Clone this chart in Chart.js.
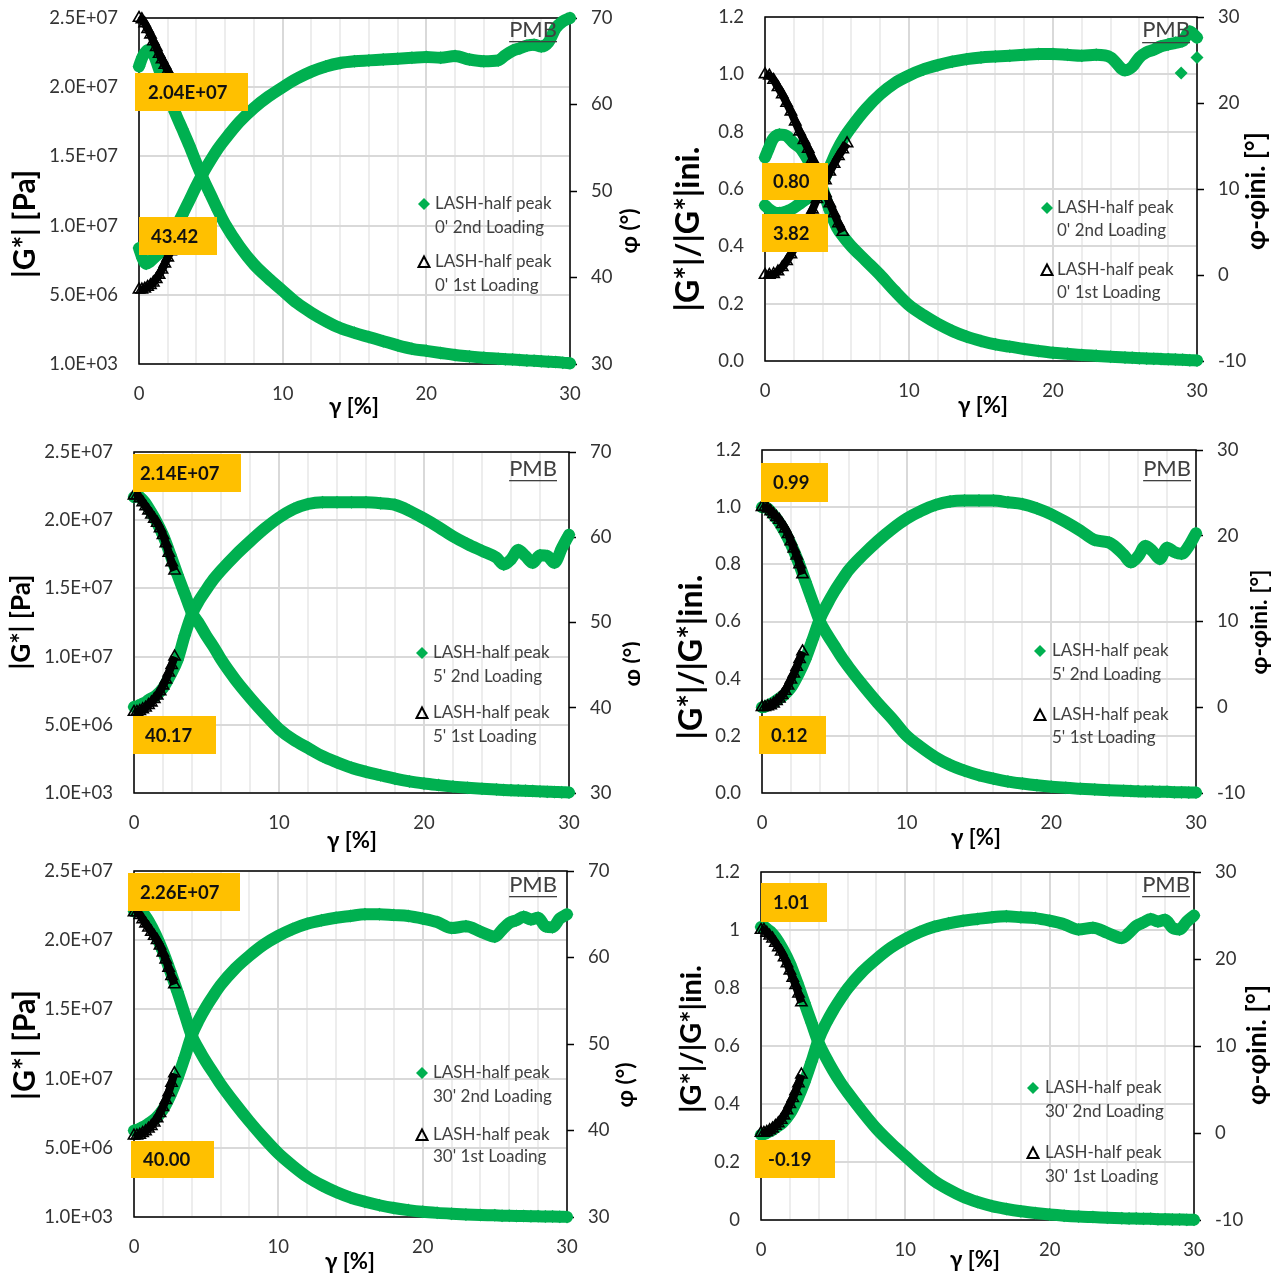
<!DOCTYPE html>
<html>
<head>
<meta charset="utf-8">
<script src="https://cdn.jsdelivr.net/npm/chart.js@4.4.1/dist/chart.umd.min.js"></script>
<style>
  body { margin: 0; background: #fff; width: 1280px; height: 1275px; position: relative; overflow: hidden; }
  canvas { position: absolute; }
</style>
</head>
<body>
<canvas id="p0" width="640" height="430"></canvas>
<canvas id="p1" width="640" height="430"></canvas>
<canvas id="p2" width="640" height="430"></canvas>
<canvas id="p3" width="640" height="430"></canvas>
<canvas id="p4" width="640" height="415"></canvas>
<canvas id="p5" width="640" height="415"></canvas>
<script>
// strain (%) of the 2nd loading, shared by every panel
const strain = [0, 0.25, 0.5, 0.75, 1, 1.5, 2, 2.5, 3, 3.5, 4, 4.5, 5, 5.5, 6, 7, 8, 9, 10, 11, 12, 13, 14, 15, 16, 17, 18, 19, 20, 21, 22, 23, 24, 25, 25.5, 26, 26.5, 27, 27.5, 28, 28.5, 29, 29.5, 30];
// strain of the 1st loading (short runs)
const strainFirst0 = [0, 0.2, 0.4, 0.6, 0.8, 1, 1.2, 1.4, 1.6, 1.8, 2, 2.2, 2.4];
const strainFirst0nG = [0, 0.3, 0.6, 0.9, 1.2, 1.5, 1.8, 2.1, 2.4, 2.7, 3, 3.3, 3.6, 3.9, 4.2, 4.5, 4.8, 5.1, 5.4];
const strainFirst0nP = [0, 0.3, 0.6, 0.9, 1.2, 1.5, 1.8, 2.1, 2.4, 2.7, 3, 3.3, 3.6, 3.9, 4.2, 4.5, 4.8, 5.1, 5.4, 5.7];
const strainFirst = [0, 0.2, 0.4, 0.6, 0.8, 1, 1.2, 1.4, 1.6, 1.8, 2, 2.2, 2.4, 2.6, 2.8];

// 0' rest: |G*| [Pa] and phase angle [deg]
const g0Second = [21.5e6, 22.2e6, 22.6e6, 22.7e6, 22.4e6, 21.0e6, 19.6e6, 18.2e6, 17.0e6, 15.8e6, 14.5e6, 13.3e6, 12.2e6, 11.1e6, 10.1e6, 8.5e6, 7.2e6, 6.2e6, 5.3e6, 4.4e6, 3.7e6, 3.1e6, 2.6e6, 2.25e6, 1.95e6, 1.65e6, 1.35e6, 1.1e6, 0.95e6, 0.8e6, 0.65e6, 0.55e6, 0.45e6, 0.38e6, 0.35e6, 0.32e6, 0.29e6, 0.26e6, 0.23e6, 0.2e6, 0.17e6, 0.14e6, 0.1e6, 0.05e6];
const phi0Second = [43.4, 42.2, 41.6, 41.8, 42.2, 43.0, 44.2, 45.6, 47.2, 48.9, 50.6, 52.2, 53.6, 54.9, 56.0, 58.0, 59.6, 60.9, 62.0, 63.0, 63.8, 64.4, 64.8, 65.0, 65.1, 65.2, 65.3, 65.4, 65.5, 65.4, 65.6, 65.2, 65.0, 65.1, 65.7, 66.2, 66.5, 66.8, 66.9, 66.7, 67.2, 68.8, 69.6, 70.0];
const g0First = [25.0e6, 24.9e6, 24.6e6, 24.2e6, 23.8e6, 23.3e6, 22.9e6, 22.4e6, 22.0e6, 21.6e6, 21.2e6, 20.8e6, 20.4e6];
const phi0First = [38.6, 38.6, 38.7, 38.9, 39.1, 39.4, 39.8, 40.3, 40.9, 41.6, 42.3, 43.0, 43.8];

// 0' rest, normalised: |G*|/|G*|ini and phi - phi ini
const g0nSecond = [0.71, 0.74, 0.77, 0.785, 0.79, 0.785, 0.76, 0.74, 0.70, 0.655, 0.60, 0.525, 0.465, 0.43, 0.40, 0.35, 0.30, 0.245, 0.195, 0.16, 0.13, 0.105, 0.085, 0.07, 0.058, 0.05, 0.042, 0.035, 0.029, 0.025, 0.021, 0.018, 0.015, 0.012, 0.011, 0.01, 0.009, 0.008, 0.007, 0.006, 0.005, 0.004, 0.003, 0.002];
const dphi0Second = [8.1, 7.7, 7.4, 7.2, 7.2, 7.4, 7.8, 8.4, 9.0, 9.8, 10.8, 12.6, 14.5, 16.0, 17.2, 19.3, 21.0, 22.3, 23.2, 23.9, 24.4, 24.8, 25.1, 25.3, 25.4, 25.5, 25.6, 25.7, 25.7, 25.6, 25.5, 25.6, 25.3, 23.8, 24.2, 25.3, 25.9, 26.2, 26.6, 26.8, 27.0, 27.2, 28.3, 27.6];
const strainOutlier0n = [28.9, 30];
const dphiOutlier0n = [23.5, 25.3];
const g0nFirst = [1.0, 0.995, 0.98, 0.955, 0.93, 0.90, 0.87, 0.835, 0.80, 0.77, 0.74, 0.705, 0.665, 0.625, 0.585, 0.55, 0.515, 0.48, 0.45];
const dphi0First = [0, 0, 0.1, 0.4, 0.9, 1.6, 2.4, 3.3, 4.3, 5.4, 6.5, 7.6, 8.8, 9.9, 11.0, 12.0, 12.9, 13.8, 14.6, 15.3];

// 5' rest
const g5Second = [21.7e6, 21.8e6, 21.6e6, 21.3e6, 20.9e6, 20.0e6, 18.9e6, 17.5e6, 16.0e6, 14.6e6, 13.2e6, 12.4e6, 11.5e6, 10.7e6, 9.8e6, 8.3e6, 7.0e6, 5.8e6, 4.7e6, 3.9e6, 3.3e6, 2.7e6, 2.25e6, 1.85e6, 1.55e6, 1.3e6, 1.05e6, 0.85e6, 0.7e6, 0.58e6, 0.47e6, 0.38e6, 0.31e6, 0.25e6, 0.22e6, 0.2e6, 0.18e6, 0.16e6, 0.14e6, 0.12e6, 0.1e6, 0.08e6, 0.06e6, 0.04e6];
const phi5Second = [40.1, 40.2, 40.4, 40.6, 40.9, 41.4, 42.3, 43.8, 45.6, 48.5, 51.0, 52.6, 53.9, 55.1, 56.1, 57.9, 59.5, 61.0, 62.3, 63.3, 63.9, 64.1, 64.1, 64.1, 64.1, 64.0, 63.8, 63.1, 62.2, 61.2, 60.1, 59.2, 58.4, 57.6, 56.8, 57.4, 58.5, 57.8, 57.0, 57.9, 57.8, 57.0, 58.7, 60.3];
const g5First = [21.8e6, 21.8e6, 21.6e6, 21.3e6, 21.0e6, 20.7e6, 20.4e6, 20.1e6, 19.8e6, 19.4e6, 18.9e6, 18.3e6, 17.6e6, 16.9e6, 16.3e6];
const phi5First = [39.5, 39.5, 39.6, 39.8, 40.0, 40.3, 40.6, 41.0, 41.4, 41.9, 42.6, 43.3, 44.1, 45.0, 46.0];

const g5nSecond = [1.0, 1.0, 0.99, 0.975, 0.96, 0.92, 0.87, 0.81, 0.74, 0.67, 0.60, 0.555, 0.515, 0.475, 0.44, 0.375, 0.315, 0.26, 0.20, 0.16, 0.125, 0.098, 0.078, 0.062, 0.05, 0.04, 0.033, 0.027, 0.022, 0.018, 0.015, 0.012, 0.01, 0.008, 0.007, 0.006, 0.005, 0.005, 0.004, 0.004, 0.003, 0.003, 0.002, 0.002];
const dphi5Second = [0.0, 0.1, 0.3, 0.5, 0.8, 1.4, 2.3, 3.8, 5.6, 7.9, 10.3, 12.0, 13.5, 14.8, 16.0, 17.8, 19.4, 20.8, 22.0, 22.9, 23.6, 24.0, 24.1, 24.1, 24.1, 23.9, 23.7, 23.2, 22.5, 21.6, 20.6, 19.5, 19.2, 17.8, 16.9, 17.6, 18.8, 18.2, 17.3, 18.6, 18.1, 17.9, 18.8, 20.3];
const g5nFirst = [1.0, 1.0, 0.995, 0.985, 0.975, 0.965, 0.955, 0.94, 0.925, 0.905, 0.88, 0.855, 0.83, 0.80, 0.765];
const dphi5First = [0, 0, 0.1, 0.2, 0.4, 0.7, 1.0, 1.4, 1.9, 2.5, 3.2, 3.9, 4.7, 5.6, 6.5];

// 30' rest
const g30Second = [22.1e6, 22.2e6, 22.1e6, 21.8e6, 21.4e6, 20.4e6, 19.2e6, 17.8e6, 16.3e6, 14.7e6, 13.1e6, 12.1e6, 11.2e6, 10.4e6, 9.6e6, 8.2e6, 6.9e6, 5.7e6, 4.6e6, 3.7e6, 2.9e6, 2.3e6, 1.8e6, 1.4e6, 1.1e6, 0.85e6, 0.65e6, 0.5e6, 0.38e6, 0.3e6, 0.24e6, 0.19e6, 0.15e6, 0.12e6, 0.1e6, 0.09e6, 0.08e6, 0.07e6, 0.06e6, 0.05e6, 0.04e6, 0.03e6, 0.02e6, 0.01e6];
const phi30Second = [40.0, 40.1, 40.3, 40.5, 40.8, 41.4, 42.4, 44.0, 46.0, 48.4, 51.0, 52.8, 54.3, 55.6, 56.8, 58.7, 60.2, 61.5, 62.5, 63.3, 63.9, 64.3, 64.6, 64.8, 65.0, 65.0, 64.9, 64.8, 64.5, 64.1, 63.4, 63.6, 63.0, 62.4, 63.2, 64.0, 64.3, 64.7, 64.4, 64.6, 63.6, 63.5, 64.5, 65.0];
const g30First = [22.0e6, 22.0e6, 21.8e6, 21.5e6, 21.2e6, 20.9e6, 20.6e6, 20.3e6, 20.0e6, 19.6e6, 19.1e6, 18.6e6, 18.0e6, 17.4e6, 16.8e6];
const phi30First = [39.4, 39.4, 39.5, 39.7, 39.9, 40.2, 40.5, 40.9, 41.4, 42.0, 42.7, 43.5, 44.4, 45.5, 46.6];

const g30nSecond = [1.01, 1.01, 1.0, 0.99, 0.975, 0.935, 0.885, 0.82, 0.75, 0.68, 0.61, 0.56, 0.515, 0.475, 0.44, 0.375, 0.315, 0.265, 0.22, 0.175, 0.135, 0.105, 0.08, 0.062, 0.048, 0.038, 0.03, 0.024, 0.019, 0.015, 0.012, 0.01, 0.008, 0.006, 0.005, 0.005, 0.004, 0.004, 0.003, 0.003, 0.002, 0.002, 0.001, 0.001];
const dphi30Second = [-0.2, -0.1, 0.1, 0.3, 0.6, 1.2, 2.2, 3.8, 5.8, 8.2, 10.8, 12.6, 14.1, 15.4, 16.6, 18.5, 20.0, 21.3, 22.3, 23.1, 23.7, 24.1, 24.4, 24.6, 24.8, 24.9, 24.8, 24.7, 24.4, 24.0, 23.4, 23.6, 23.0, 22.4, 23.0, 23.8, 24.2, 24.6, 24.3, 24.5, 23.6, 23.4, 24.3, 25.0];
const g30nFirst = [1.0, 1.0, 0.99, 0.98, 0.97, 0.955, 0.94, 0.925, 0.905, 0.885, 0.86, 0.835, 0.81, 0.78, 0.75];
const dphi30First = [0, 0, 0.1, 0.3, 0.5, 0.8, 1.1, 1.5, 2.0, 2.6, 3.3, 4.0, 4.8, 5.7, 6.7];

// tick labels
const gTickLabels = ["1.0E+03", "5.0E+06", "1.0E+07", "1.5E+07", "2.0E+07", "2.5E+07"];
const ratioTickLabels = ["0.0", "0.2", "0.4", "0.6", "0.8", "1.0", "1.2"];
const ratioTickLabelsShort = ["0", "0.2", "0.4", "0.6", "0.8", "1", "1.2"];
const restTimes = ["0'", "5'", "30'"];
const annotations = [["2.04E+07", "43.42"], ["0.80", "3.82"], ["2.14E+07", "40.17"], ["0.99", "0.12"], ["2.26E+07", "40.00"], ["1.01", "-0.19"]];

const GREEN = "#00B050";
const FONT = "Lato, 'Open Sans', 'DejaVu Sans', sans-serif";
const TICK_COLOR = "#333333";
Chart.defaults.font.family = FONT;

function pts(xs, ys) {
    return xs.map((x, i) => ({ x: x, y: ys[i] }));
}

function greenSet(xs, ys, axis) {
    return {
        data: pts(xs, ys), yAxisID: axis, showLine: true, cubicInterpolationMode: "monotone",
        borderColor: GREEN, borderWidth: 12, borderJoinStyle: "round", borderCapStyle: "round",
        pointStyle: "rectRot", pointRadius: 6.5, pointBackgroundColor: GREEN, pointBorderWidth: 0,
        clip: false,
    };
}

function blackSet(xs, ys, axis) {
    return {
        data: pts(xs, ys), yAxisID: axis, showLine: true, cubicInterpolationMode: "monotone",
        borderColor: "#000", borderWidth: 8, borderJoinStyle: "round", borderCapStyle: "butt",
        pointStyle: "triangle", pointRadius: 6.5, pointBackgroundColor: "rgba(0,0,0,0)",
        pointBorderColor: "#000", pointBorderWidth: 1.6,
        clip: false,
    };
}

const panels = [
    { id: "p0", canvas: [0, 0, 640, 430], plot: [139, 18, 570, 364], kind: "abs", age: 0,
      sets: [blackSet(strainFirst0, g0First, "yL"), blackSet(strainFirst0, phi0First, "yR"),
             greenSet(strain, g0Second, "yL"), greenSet(strain, phi0Second, "yR")],
      boxes: [[135, 73, 248, 111, 148], [139, 217, 217, 255, 151]],
      legend: { mx: 424, tx: 435, ys: [204, 228, 262, 286] }, pmb: [557, 30, 41],
      titles: { left: [25, 224, 108], right: [630, 231, 45], x: [354, 407, 50] } },
    { id: "p1", canvas: [640, 0, 640, 430], plot: [765, 17, 1197, 361], kind: "norm", age: 0, short: false,
      sets: [blackSet(strainFirst0nG, g0nFirst, "yL"), blackSet(strainFirst0nP, dphi0First, "yR"),
             greenSet(strain, g0nSecond, "yL"), greenSet(strain, dphi0Second, "yR"),
             Object.assign(greenSet(strainOutlier0n, dphiOutlier0n, "yR"), { showLine: false })],
      boxes: [[762, 163, 828, 200, 773], [762, 214, 828, 252, 773]],
      legend: { mx: 1047, tx: 1057, ys: [208, 231, 270, 293] }, pmb: [1190, 30, 42],
      titles: { left: [689, 229, 165], right: [1257, 191, 118], x: [983, 406, 50] } },
    { id: "p2", canvas: [0, 430, 640, 430], plot: [134, 452, 569, 793], kind: "abs", age: 1,
      sets: [blackSet(strainFirst, g5First, "yL"), blackSet(strainFirst, phi5First, "yR"),
             greenSet(strain, g5Second, "yL"), greenSet(strain, phi5Second, "yR")],
      boxes: [[133, 454, 241, 492, 140], [133, 716, 216, 754, 145]],
      legend: { mx: 422, tx: 433, ys: [653, 677, 713, 737] }, pmb: [557, 469, 480],
      titles: { left: [22, 622, 95], right: [633, 664, 45], x: [352, 841, 50] } },
    { id: "p3", canvas: [640, 430, 640, 430], plot: [762, 450, 1196, 793], kind: "norm", age: 1, short: false,
      sets: [blackSet(strainFirst, g5nFirst, "yL"), blackSet(strainFirst, dphi5First, "yR"),
             greenSet(strain, g5nSecond, "yL"), greenSet(strain, dphi5Second, "yR")],
      boxes: [[761, 463, 828, 502, 773], [759, 716, 826, 754, 771]],
      legend: { mx: 1040, tx: 1052, ys: [651, 675, 715, 738] }, pmb: [1191, 469, 480],
      titles: { left: [692, 657, 165], right: [1259, 622, 105], x: [976, 838, 50] } },
    { id: "p4", canvas: [0, 860, 640, 415], plot: [134, 871, 567, 1217], kind: "abs", age: 2,
      sets: [blackSet(strainFirst, g30First, "yL"), blackSet(strainFirst, phi30First, "yR"),
             greenSet(strain, g30Second, "yL"), greenSet(strain, phi30Second, "yR")],
      boxes: [[128, 873, 240, 911, 140], [131, 1141, 214, 1178, 143]],
      legend: { mx: 422, tx: 433, ys: [1073, 1097, 1135, 1157] }, pmb: [557, 885, 896],
      titles: { left: [25, 1045, 110], right: [626, 1085, 45], x: [350, 1262, 50] } },
    { id: "p5", canvas: [640, 860, 640, 415], plot: [761, 872, 1194, 1220], kind: "norm", age: 2, short: true,
      sets: [blackSet(strainFirst, g30nFirst, "yL"), blackSet(strainFirst, dphi30First, "yR"),
             greenSet(strain, g30nSecond, "yL"), greenSet(strain, dphi30Second, "yR")],
      boxes: [[761, 883, 827, 922, 773], [755, 1140, 835, 1178, 768]],
      legend: { mx: 1033, tx: 1045, ys: [1088, 1112, 1153, 1177] }, pmb: [1190, 885, 896],
      titles: { left: [692, 1039, 148], right: [1257, 1045, 120], x: [975, 1260, 50] } },
];

function fitText(ctx, text, len, weight) {
    ctx.font = weight + " 20px " + FONT;
    const size = 20 * len / ctx.measureText(text).width;
    ctx.font = weight + " " + size.toFixed(1) + "px " + FONT;
}

function drawTitle(ctx, text, cx, cy, len, rotate) {
    ctx.save();
    fitText(ctx, text, len, "bold");
    ctx.translate(cx, cy);
    if (rotate) ctx.rotate(-Math.PI / 2);
    ctx.textAlign = "center";
    ctx.textBaseline = "middle";
    ctx.fillStyle = "#000";
    ctx.fillText(text, 0, 0);
    ctx.restore();
}

function decor(p, index) {
    const ox = p.canvas[0], oy = p.canvas[1];
    const age = restTimes[p.age];
    return {
        id: "decor" + index,
        beforeDatasetsDraw(chart) {
            const a = chart.chartArea, ctx = chart.ctx;
            ctx.save();
            ctx.strokeStyle = "#000";
            ctx.lineWidth = 1.5;
            ctx.strokeRect(a.left, a.top, a.right - a.left, a.bottom - a.top);
            ctx.restore();
        },
        afterDatasetsDraw(chart) {
            const ctx = chart.ctx;
            ctx.save();
            // value boxes
            p.boxes.forEach((b, i) => {
                ctx.fillStyle = "#FFC000";
                ctx.fillRect(b[0] - ox, b[1] - oy, b[2] - b[0], b[3] - b[1]);
                ctx.fillStyle = "#111";
                ctx.font = "bold 18.5px " + FONT;
                ctx.textAlign = "left";
                ctx.textBaseline = "middle";
                ctx.fillText(annotations[index][i], b[4] - ox, (b[1] + b[3]) / 2 - oy + 1);
            });
            // legend
            const L = p.legend;
            ctx.font = "17px " + FONT;
            ctx.fillStyle = "#404040";
            ctx.textAlign = "left";
            ctx.textBaseline = "middle";
            const lines = ["LASH-half peak", age + " 2nd Loading", "LASH-half peak", age + " 1st Loading"];
            lines.forEach((t, i) => ctx.fillText(t, L.tx - ox, L.ys[i] - oy));
            const mx = L.mx - ox, my = L.ys[0] - oy;
            ctx.fillStyle = GREEN;
            ctx.beginPath();
            ctx.moveTo(mx - 6, my); ctx.lineTo(mx, my - 6); ctx.lineTo(mx + 6, my); ctx.lineTo(mx, my + 6);
            ctx.closePath();
            ctx.fill();
            const ty = L.ys[2] - oy;
            ctx.strokeStyle = "#000";
            ctx.lineWidth = 2;
            ctx.beginPath();
            ctx.moveTo(mx, ty - 5.5); ctx.lineTo(mx + 5.5, ty + 5); ctx.lineTo(mx - 5.5, ty + 5);
            ctx.closePath();
            ctx.stroke();
            // PMB tag
            ctx.font = "22px " + FONT;
            ctx.fillStyle = "#404040";
            ctx.textAlign = "right";
            const w = ctx.measureText("PMB").width;
            ctx.fillText("PMB", p.pmb[0] - ox, p.pmb[1] - oy);
            ctx.fillRect(p.pmb[0] - ox - w, p.pmb[2] - oy, w, 1.3);
            ctx.restore();
        },
        afterDraw(chart) {
            const ctx = chart.ctx, t = p.titles;
            const leftText = p.kind === "abs" ? "|G*| [Pa]" : "|G*|/|G*|ini.";
            const rightText = p.kind === "abs" ? "\u03C6 (\u00B0)" : "\u03C6-\u03C6ini. [\u00B0]";
            drawTitle(ctx, leftText, t.left[0] - ox, t.left[1] - oy, t.left[2], true);
            drawTitle(ctx, rightText, t.right[0] - ox, t.right[1] - oy, t.right[2], true);
            drawTitle(ctx, "\u03B3 [%]", t.x[0] - ox, t.x[1] - oy, t.x[2], false);
        },
    };
}

panels.forEach((p, index) => {
    const [cl, ct, cw, ch] = p.canvas;
    const [pl, pt, pr, pb] = p.plot;
    const canvas = document.getElementById(p.id);
    canvas.style.left = cl + "px";
    canvas.style.top = ct + "px";
    const tickFont = { family: FONT, size: 18.5 };
    const abs = p.kind === "abs";
    const leftLabels = abs ? gTickLabels : (p.short ? ratioTickLabelsShort : ratioTickLabels);

    new Chart(canvas, {
        type: "scatter",
        data: { datasets: p.sets },
        options: {
            responsive: false,
            animation: false,
            events: [],
            layout: { padding: { top: pt - ct, left: 0, right: 0, bottom: 0 } },
            plugins: { legend: { display: false }, tooltip: { enabled: false } },
            scales: {
                x: {
                    type: "linear", position: "bottom", min: 0, max: 30,
                    afterFit: (s) => { s.height = ct + ch - pb; s.paddingLeft = 0; s.paddingRight = 0; },
                    ticks: {
                        stepSize: 2, autoSkip: false, maxRotation: 0, padding: 19,
                        font: tickFont, color: TICK_COLOR,
                        callback: (v) => (v % 10 === 0 ? String(v) : ""),
                    },
                    grid: {
                        color: (c) => (c.index % 5 === 0 ? "#d9d9d9" : "#ededed"),
                        lineWidth: 2, drawTicks: false,
                    },
                    border: { display: false },
                },
                yL: {
                    type: "linear", position: "left",
                    min: abs ? 1000 : 0, max: abs ? 25001000 : 1.2,
                    afterFit: (s) => { s.width = pl - cl; s.paddingTop = 0; s.paddingBottom = 0; },
                    ticks: {
                        stepSize: abs ? 5e6 : 0.2, padding: 21,
                        font: tickFont, color: TICK_COLOR,
                        callback: (v, i) => leftLabels[i],
                    },
                    grid: { color: "#d9d9d9", lineWidth: 2, drawTicks: false },
                    border: { display: false },
                },
                yR: {
                    type: "linear", position: "right",
                    min: abs ? 30 : -10, max: abs ? 70 : 30,
                    afterFit: (s) => { s.width = cl + cw - pr; s.paddingTop = 0; s.paddingBottom = 0; },
                    ticks: {
                        stepSize: 10, padding: 14,
                        font: tickFont, color: TICK_COLOR,
                        callback: (v) => String(v),
                    },
                    grid: { drawOnChartArea: false, drawTicks: true, tickLength: 7, tickColor: "#000", tickWidth: 1.5 },
                    border: { display: false },
                },
            },
        },
        plugins: [decor(p, index)],
    });
});
</script>
</body>
</html>
